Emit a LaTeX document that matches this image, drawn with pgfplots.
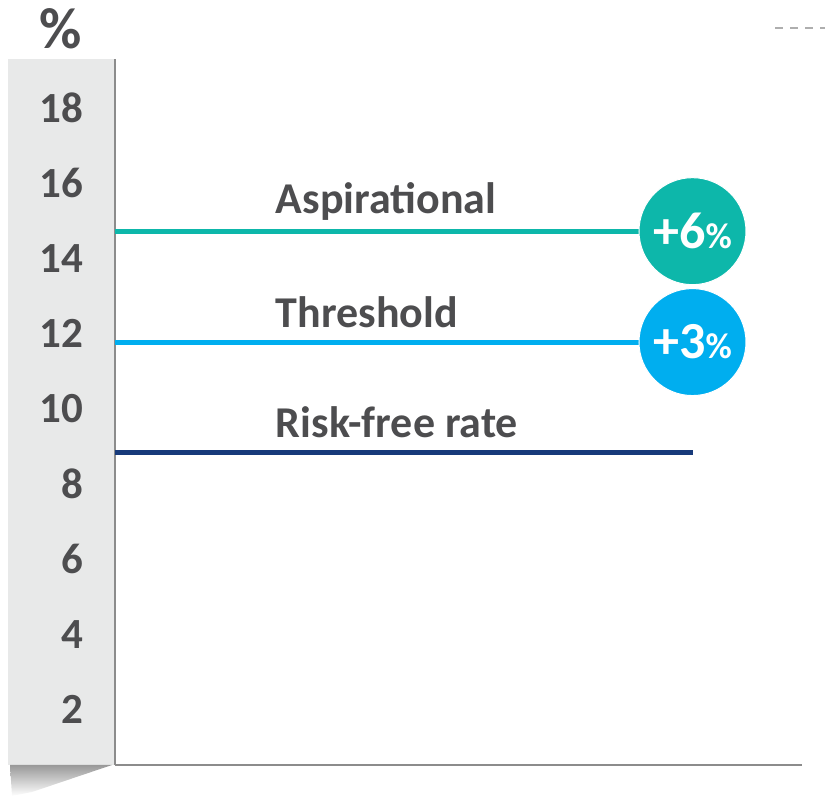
\documentclass[border=0pt]{standalone}
\usepackage{fontspec}
\setmainfont{Carlito}
\usepackage{pgfplots}
\pgfplotsset{compat=1.18}
\definecolor{txt}{HTML}{4D4D4F}
\definecolor{band}{HTML}{E8E9E9}
\definecolor{aspc}{HTML}{0DB7AA}
\definecolor{thrc}{HTML}{00AEEF}
\definecolor{rfc}{HTML}{173A7A}
\definecolor{axc}{HTML}{8C8C8C}
\newcommand{\bsize}[1]{\fontsize{#1}{#1}\selectfont\bfseries}

\begin{document}
\begin{tikzpicture}[x=1pt,y=1pt]
\path[use as bounding box] (0,0) rectangle (825,798);
% grey band behind the tick labels, with its curled shadow
\fill[band] (8,33) rectangle (114,739);
\shade[top color=black!40, bottom color=white] (10,33) -- (112,33) -- (32,6) -- (12,2) -- cycle;
\draw[axc!70, line width=2pt, dash pattern=on 8pt off 7pt] (775,770) -- (825,770);
\begin{axis}[
    at={(115pt,33pt)}, anchor=south west,
    scale only axis, width=687pt, height=706pt,
    xmin=0, xmax=100, ymin=0.53, ymax=19.31,
    axis x line=bottom, axis y line=left,
    axis line style={-, axc, line width=2pt},
    xtick=\empty, ytick={2,4,...,18},
    major tick length=0pt,
    /pgf/number format/assume math mode=true,
    yticklabel style={anchor=east, inner sep=0pt, xshift=-32pt,
        font=\bsize{43}, text=txt},
    clip=false,
  ]
  \addplot[rfc, line width=5pt] coordinates {(0,8.83) (84.1,8.83)};
  \addplot[thrc, line width=5pt] coordinates {(0,11.78) (80,11.78)};
  \addplot[aspc, line width=5pt] coordinates {(0,14.73) (80,14.73)};
  \addplot[only marks, mark=*, mark size=53.5pt, mark options={fill=thrc, draw=white, line width=1pt}] coordinates {(84.06,11.78)};
  \addplot[only marks, mark=*, mark size=53.5pt, mark options={fill=aspc, draw=white, line width=1pt}] coordinates {(84.06,14.73)};

  \node[anchor=base west, inner sep=0pt, font=\bsize{44}, text=txt] at (axis cs:23.4,15.19) {Aspirational};
  \node[anchor=base west, inner sep=0pt, font=\bsize{44}, text=txt] at (axis cs:23.4,12.18) {Threshold};
  \node[anchor=base west, inner sep=0pt, font=\bsize{44}, text=txt] at (axis cs:23.4,9.23) {Risk-free rate};
  \coordinate (c6) at (axis cs:84.06,14.73);
  \coordinate (c3) at (axis cs:84.06,11.78);
\end{axis}
\node[text=white, font=\bsize{52}, inner sep=0pt] at (c6) {+6{\bsize{36}\%}};
\node[text=white, font=\bsize{52}, inner sep=0pt] at (c3) {+3{\bsize{36}\%}};
\node[font=\bsize{58}, text=txt] at (61,769) {\%};
\end{tikzpicture}
\end{document}
